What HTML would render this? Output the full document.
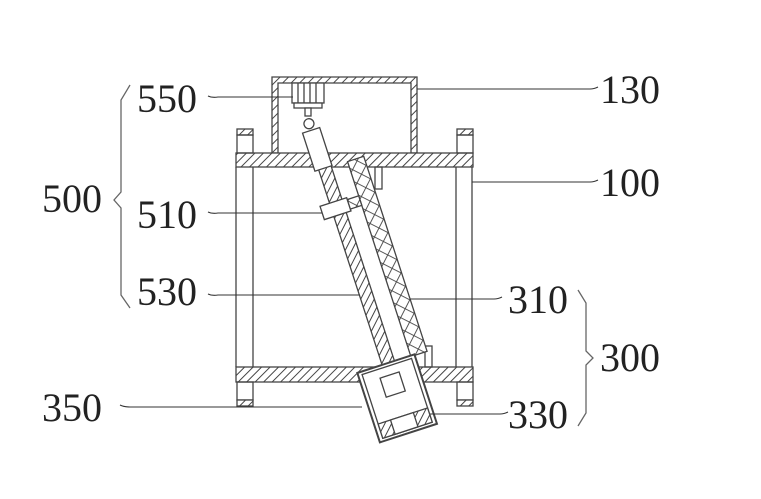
<!DOCTYPE html>
<html><head><style>
html,body{margin:0;padding:0;background:#fff;}
svg{display:block;}
text{font-family:"Liberation Serif",serif;font-size:40px;fill:#222;}
</style></head><body>
<svg width="761" height="499" viewBox="0 0 761 499" xmlns="http://www.w3.org/2000/svg">
<defs>
<pattern id="h" width="6" height="6" patternUnits="userSpaceOnUse" patternTransform="rotate(45)">
<rect width="6" height="6" fill="#fff"/><line x1="0" y1="0" x2="0" y2="6" stroke="#444" stroke-width="2"/>
</pattern>
<pattern id="x" width="10" height="10" patternUnits="userSpaceOnUse" patternTransform="rotate(45)">
<rect width="10" height="10" fill="#fff"/><path d="M0 0V10M0 0H10" stroke="#444" stroke-width="1.8"/>
</pattern>
</defs>
<g stroke="#444" stroke-width="1.3" fill="none">
<path d="M272 77H417V153H411V83H278V153H272Z" fill="url(#h)"/>
<rect x="292" y="83" width="32" height="20" fill="#fff"/>
<path d="M298 83v20M304 83v20M310 83v20M316 83v20"/>
<rect x="294" y="103" width="28" height="5" fill="#fff"/>
<rect x="305" y="108" width="6" height="8" fill="#fff"/>
<rect x="236" y="153" width="237" height="14" fill="url(#h)"/>
<rect x="237" y="129" width="16" height="6" fill="url(#h)"/>
<rect x="237" y="135" width="16" height="18"/>
<rect x="457" y="129" width="16" height="6" fill="url(#h)"/>
<rect x="457" y="135" width="16" height="18"/>
<rect x="236" y="367" width="237" height="15" fill="url(#h)"/>
<rect x="237" y="382" width="16" height="18"/>
<rect x="237" y="400" width="16" height="6" fill="url(#h)"/>
<rect x="457" y="382" width="16" height="18"/>
<rect x="457" y="400" width="16" height="6" fill="url(#h)"/>
<path d="M236 167V367M253 167V367M456 167V367M472 167V367"/>
<rect x="375" y="167" width="7" height="22"/>
<rect x="425" y="346" width="7" height="21"/>
<g transform="translate(308 124) rotate(-18)">
<rect x="-4" y="40" width="13" height="226" fill="url(#h)"/>
<rect x="26" y="48" width="17" height="205" fill="url(#x)"/>
<rect x="-8" y="7" width="18" height="40" fill="#fff"/>
<circle cx="1" cy="0" r="5" fill="#fff"/>
<rect x="-14" y="82" width="28" height="14" fill="#fff"/>
<rect x="14" y="84" width="12" height="10" fill="url(#x)"/>
<rect x="-30" y="252" width="60" height="73" fill="#fff" stroke-width="2"/>
<rect x="-26" y="255" width="52" height="67"/>
<rect x="-10" y="264" width="20" height="20" fill="#fff"/>
<rect x="-26" y="307" width="52" height="15" fill="url(#h)"/>
<rect x="-13" y="307" width="24" height="15" fill="#fff"/>
</g>
</g>
<g stroke="#333" stroke-width="1.1" fill="none">
<path d="M208 96q4 2 10 1H293"/>
<path d="M417 89H590q4 0 8-2"/>
<path d="M472 182H590q4 0 8-2"/>
<path d="M208 212q4 2 10 1H322"/>
<path d="M208 294q4 2 10 1H360"/>
<path d="M410 299H494q4 0 8-2"/>
<path d="M120 405q4 2 10 2H362"/>
<path d="M430 414H500q4 0 8-2"/>
<path d="M130 85L121 100V192L114 200L121 208V295L130 308" stroke="#666" stroke-width="1.3"/>
<path d="M578 290L586 303V351L593 358L586 365V413L578 426" stroke="#666" stroke-width="1.3"/>
</g>
<text x="137" y="112">550</text>
<text x="42" y="212">500</text>
<text x="137" y="228">510</text>
<text x="137" y="305">530</text>
<text x="42" y="421">350</text>
<text x="600" y="103">130</text>
<text x="600" y="196">100</text>
<text x="508" y="313">310</text>
<text x="600" y="371">300</text>
<text x="508" y="428">330</text>
</svg>
</body></html>
